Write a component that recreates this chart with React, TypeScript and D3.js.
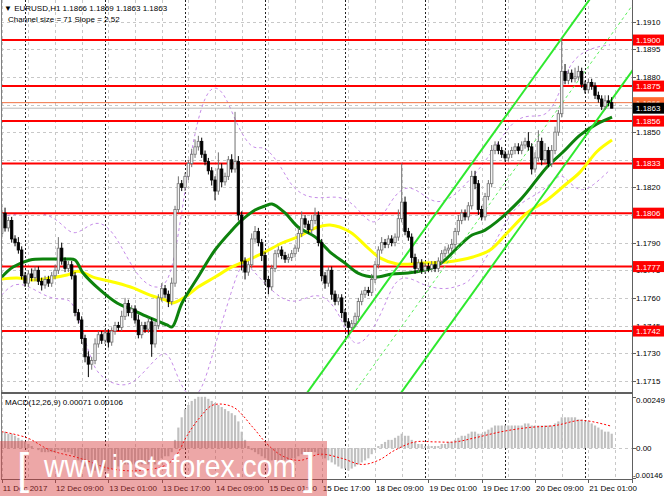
import React from "react";
import * as d3 from "d3";

// ---------- DATA ----------
const firstOpen = 1.1795;
const closes = [
  1.1806, 1.1798, 1.1802, 1.1792, 1.179, 1.1786, 1.1772, 1.1768,
  1.1773, 1.1771, 1.1775, 1.1769, 1.1767, 1.177, 1.1768, 1.1772,
  1.1775, 1.1787, 1.178, 1.1776, 1.1778, 1.1772, 1.1752, 1.1748,
  1.1738, 1.1728, 1.1724, 1.1726, 1.1735, 1.174, 1.1737, 1.1741,
  1.1736, 1.1742, 1.1745, 1.1744, 1.175, 1.1757, 1.1752, 1.1754,
  1.1748, 1.174, 1.1745, 1.1743, 1.1747, 1.1735, 1.1745, 1.176,
  1.1765, 1.1762, 1.1758, 1.1768, 1.1808, 1.1822, 1.182, 1.1826,
  1.1833, 1.1838, 1.1842, 1.1845, 1.1838, 1.1834, 1.1829, 1.1824,
  1.1818, 1.183, 1.1823, 1.1826, 1.1835, 1.183, 1.1834, 1.1805,
  1.178, 1.1774, 1.1778, 1.1792, 1.1796, 1.179, 1.1783, 1.177,
  1.1766, 1.1776, 1.1784, 1.1786, 1.1783, 1.1781, 1.1782, 1.1784,
  1.1787, 1.1795, 1.1803, 1.18, 1.1797, 1.1802, 1.1805, 1.179,
  1.1772, 1.1768, 1.1775, 1.1762, 1.1758, 1.176, 1.1752, 1.1747,
  1.1744, 1.1746, 1.175, 1.1758, 1.1762, 1.1764, 1.1763, 1.177,
  1.1778, 1.1786, 1.179, 1.1789, 1.1792, 1.179, 1.1793, 1.1803,
  1.1812, 1.1796, 1.1793, 1.1782, 1.1776, 1.1779, 1.1775, 1.1777,
  1.1776, 1.1778, 1.1776, 1.178, 1.1784, 1.1786, 1.1787, 1.1789,
  1.1796, 1.1802, 1.1806, 1.1804, 1.181, 1.1826, 1.1822, 1.1808,
  1.1804, 1.1815, 1.1822, 1.184, 1.1843, 1.184, 1.1838, 1.1836,
  1.1838, 1.184, 1.1842, 1.184, 1.1843, 1.1845, 1.1842, 1.183,
  1.1836, 1.1845, 1.1835, 1.184, 1.1833, 1.184, 1.185, 1.186,
  1.1883, 1.1878, 1.1882, 1.1879, 1.188, 1.1883, 1.1876, 1.1873,
  1.1877, 1.1875, 1.187, 1.1868, 1.1864, 1.1867, 1.1866, 1.1863,
];
// wick lengths in pips
const wickUp = [
  4, 3, 2, 2, 2, 3, 2, 2, 2, 3, 2, 2, 2, 2, 2, 2, 3, 6, 3, 2, 2, 2, 2, 2,
  2, 2, 3, 2, 3, 2, 2, 2, 2, 2, 2, 2, 3, 3, 2, 2, 2, 3, 2, 2, 2, 2, 2, 2,
  3, 2, 2, 3, 2, 4, 2, 2, 2, 3, 4, 3, 2, 2, 2, 2, 2, 9, 3, 2, 2, 3, 27, 3,
  2, 2, 2, 3, 3, 2, 2, 2, 2, 2, 2, 2, 2, 2, 2, 2, 2, 3, 4, 2, 2, 3, 4, 2,
  2, 2, 2, 2, 2, 2, 2, 2, 2, 2, 2, 2, 2, 2, 2, 3, 2, 2, 3, 2, 2, 2, 2, 5,
  21, 3, 2, 2, 2, 2, 2, 2, 2, 2, 2, 2, 2, 2, 2, 3, 2, 3, 2, 2, 2, 3, 3, 2,
  2, 2, 2, 3, 2, 2, 2, 2, 2, 2, 2, 2, 2, 2, 5, 2, 3, 6, 2, 4, 2, 3, 3, 2,
  18, 4, 2, 2, 5, 3, 2, 2, 2, 2, 2, 2, 2, 3, 3, 3,
];
const wickDn = [
  3, 2, 2, 2, 2, 2, 2, 2, 2, 2, 2, 2, 3, 2, 2, 2, 2, 2, 2, 2, 2, 2, 2, 2,
  3, 3, 7, 3, 2, 2, 2, 2, 3, 2, 2, 2, 2, 2, 2, 3, 2, 2, 2, 2, 2, 7, 2, 2,
  2, 2, 3, 2, 2, 2, 2, 2, 2, 2, 2, 2, 2, 2, 2, 3, 5, 2, 3, 2, 2, 2, 2, 3,
  5, 4, 2, 2, 2, 2, 3, 3, 4, 2, 2, 2, 2, 2, 2, 2, 2, 2, 2, 2, 2, 2, 2, 2,
  3, 3, 2, 3, 2, 2, 3, 2, 4, 2, 2, 2, 2, 2, 2, 2, 2, 2, 2, 2, 2, 2, 2, 2,
  2, 2, 2, 3, 3, 2, 2, 2, 2, 2, 2, 2, 2, 2, 2, 2, 2, 2, 2, 2, 2, 2, 3, 3,
  2, 2, 2, 2, 2, 2, 2, 2, 2, 2, 2, 2, 2, 2, 2, 3, 2, 2, 3, 2, 2, 2, 2, 2,
  2, 2, 2, 2, 2, 2, 2, 2, 2, 2, 2, 2, 2, 2, 2, 0,
];
// moving averages, sampled [bar, price]
const greenMA: [number, number][] = [
  [0, 1.17713], [3.4, 1.17768], [8.5, 1.17806], [14.5, 1.17811], [19.6, 1.17811],
  [22, 1.17806], [24.4, 1.17735], [29.5, 1.17643], [34.6, 1.17572], [39.4, 1.17534],
  [44.5, 1.17491], [49.6, 1.17453], [51.1, 1.17442], [54.1, 1.17572], [58.9, 1.17713],
  [64, 1.1786], [69.1, 1.17968], [72.1, 1.18023], [76, 1.18077], [79, 1.18099],
  [81.1, 1.1811], [85, 1.18061], [88.9, 1.17985], [94, 1.17931], [98.5, 1.17849],
  [103, 1.17789], [106.9, 1.17735], [112, 1.17713], [117.1, 1.1773], [121.9, 1.17735],
  [127, 1.17751], [130, 1.17768], [133, 1.17806], [136.9, 1.17876], [141.1, 1.17941],
  [145, 1.17968], [155.5, 1.18131], [163.6, 1.18311], [168.4, 1.18392], [173.5, 1.18484],
  [178.6, 1.18545], [183.1, 1.18582],
];
const yellowMA: [number, number][] = [
  [0, 1.17702], [4.6, 1.17708], [9.4, 1.17697], [14.5, 1.17708], [19.6, 1.17724],
  [22.9, 1.17745], [27.4, 1.17713], [34.6, 1.17681], [39.4, 1.17654], [44.5, 1.17615],
  [49, 1.17589], [51.1, 1.17572], [55, 1.17605], [58.9, 1.17659], [64, 1.17713],
  [69.1, 1.17768], [73.9, 1.17806], [79, 1.17849], [84.1, 1.17898], [88.9, 1.17931],
  [94, 1.17979], [98.5, 1.17996], [104.5, 1.17958], [109.6, 1.17876], [113.5, 1.17817],
  [118.6, 1.17784], [126.4, 1.17789], [133.6, 1.17795], [141.4, 1.17822], [146.5, 1.1786],
  [151.6, 1.17952], [157.6, 1.18061], [163.6, 1.18131], [169, 1.18213], [173.5, 1.18283],
  [178.6, 1.18395], [183.1, 1.18457],
];
// bollinger bands, sampled [bar, price]
const bbUpper: [number, number][] = [
  [0, 1.18043], [6.4, 1.1806], [12.4, 1.18065], [17.5, 1.18016], [21.4, 1.17929],
  [25.9, 1.17994], [29.5, 1.18016], [33.4, 1.17961], [37.6, 1.1782], [41.5, 1.177],
  [46, 1.17646], [49.9, 1.17673], [52.3, 1.1786], [55, 1.18186], [58, 1.18512],
  [61, 1.18703], [64, 1.18757], [67, 1.18703], [70, 1.18567], [73, 1.18458],
  [76, 1.18403], [79, 1.18431], [84.1, 1.18306], [87.1, 1.18197], [91.9, 1.18143],
  [97, 1.18143], [102.1, 1.18154], [106.9, 1.18088], [112, 1.17963], [117.1, 1.18143],
  [121, 1.18208], [124.9, 1.18186], [130, 1.18105], [135.1, 1.18143], [139, 1.18214],
  [142.9, 1.1829], [148, 1.18415], [153.4, 1.18567], [158.5, 1.18594], [163.6, 1.18578],
  [167.5, 1.18714], [170.5, 1.18888], [176.5, 1.18958], [182.5, 1.18974],
];
const bbLower: [number, number][] = [
  [0, 1.17616], [3.4, 1.17681], [7.6, 1.1767], [12.4, 1.17616], [16.6, 1.17589],
  [20.5, 1.176], [22.6, 1.17518], [26.5, 1.17279], [28.6, 1.17192], [32.5, 1.17138],
  [37.6, 1.17117], [41.5, 1.17171], [46.6, 1.17279], [49.6, 1.17317], [52, 1.17209],
  [55, 1.17073], [59.5, 1.17046], [64, 1.17344], [69.1, 1.17648], [72.1, 1.17807],
  [75, 1.17757], [79, 1.17676], [84.1, 1.17589], [88.9, 1.17573], [94, 1.17627],
  [98.5, 1.17589], [102.1, 1.17481], [105.1, 1.1734], [109, 1.17356], [114.1, 1.17519],
  [117.1, 1.17665], [120.1, 1.17719], [124, 1.17697], [127, 1.17665], [133, 1.17643],
  [136.9, 1.17665], [139.9, 1.17681], [143.5, 1.17763], [148, 1.17899], [153.4, 1.18089],
  [158.5, 1.18143], [163.6, 1.18197], [167.5, 1.18279], [169.6, 1.18241], [173.5, 1.18171],
  [177.4, 1.18208], [182.5, 1.18295],
];
// MACD histogram (x 1e-4) and signal samples [bar, x 1e-4]
const macdHist = [
  8, 8, 7, 7, 6, 5, 4, 3, 2, 1, 0, -1, -2, -2, -2, -2,
  -2, -1, -1, -2, -2, -3, -4, -6, -7, -9, -10, -11, -11, -11, -11, -11,
  -11, -10, -10, -9, -8, -8, -8, -8, -8, -8, -8, -8, -8, -9, -8, -6,
  -5, -4, -4, -2, 4, 10, 15, 19, 21, 23, 24, 25, 25, 25, 24, 23,
  22, 21, 20, 19, 18, 17, 16, 13, 8, 4, 1, -1, -2, -3, -4, -5,
  -6, -6, -6, -6, -6, -6, -6, -5, -5, -4, -3, -3, -3, -2, -2, -3,
  -4, -5, -6, -7, -8, -9, -10, -10, -11, -10, -9, -8, -7, -6, -5, -3,
  -1, 1, 2, 3, 4, 4, 5, 6, 7, 6, 6, 4, 3, 2, 2, 1,
  1, 1, 1, 1, 2, 2, 3, 3, 4, 5, 6, 6, 7, 8, 8, 7,
  7, 8, 9, 10, 11, 11, 11, 11, 11, 11, 11, 11, 11, 12, 12, 11,
  11, 11, 11, 11, 11, 11, 12, 13, 15, 15, 15, 15, 15, 14, 14, 13,
  13, 12, 11, 10, 9, 8, 8, 7,
];
const macdSignal: [number, number][] = [
  [0, 8], [7.6, 5], [14.5, -1], [23.5, -5], [32.5, -10], [41.5, -11], [49.6, -8],
  [52.6, -3], [55.6, 6], [59.5, 15], [63.4, 21], [69.4, 20], [75.4, 10], [79.6, 2],
  [84.4, -4], [89.5, -6], [95.5, -3], [102, -5], [108, -8], [113, -6], [118, -1],
  [124, 3], [130, 3], [136, 3], [142, 5], [150, 8], [158, 10], [166, 11], [174, 13.5],
  [183, 10.6],
];
const levels = [1.19, 1.1875, 1.1856, 1.1833, 1.1806, 1.1777, 1.1742];
const priceTicks = [1.1715, 1.173, 1.1745, 1.176, 1.1775, 1.179, 1.1805, 1.182, 1.1835, 1.185, 1.1865, 1.188, 1.1895, 1.191];
const timeLabels = ["11 Dec 2017", "12 Dec 09:00", "13 Dec 01:00", "13 Dec 17:00", "14 Dec 09:00", "15 Dec 01:00", "15 Dec 17:00", "18 Dec 09:00", "19 Dec 01:00", "19 Dec 17:00", "20 Dec 09:00", "21 Dec 01:00"];
const timeLabelBars = [0, 16, 32, 48, 64, 80, 96, 112, 128, 144, 160, 176];
const gridBars = [0, 8, 16, 24, 32, 40, 48, 56, 64, 72, 80, 88, 96, 104, 112, 120, 128, 136, 144, 152, 160, 168, 176, 184];
const daySeparatorBars = [7, 31, 55, 79, 103, 127, 151, 175];
const channelStartBar = 91.6;
const channelStartPrice = 1.17084;
const channelSlopePips = 2.52;
const channelSizePips = 71;
const bidPrice = 1.1863;
const askPrice = 1.1866;
const macdTicks = [0.00249, 0, -0.00146];

const FONT = "'Liberation Sans', Arial, sans-serif";

export default function App() {
  const W = 665, H = 499;
  const plotL = 1, plotR = 632, mainT = 0, mainB = 392, macdT = 395, macdB = 479;
  const x = d3.scaleLinear().domain([0, 183]).range([1.7, 611.7]);
  const y = d3.scaleLinear().domain([1.17089, 1.19212]).range([392, 1]);
  const ym = d3.scaleLinear().domain([-0.00146, 0.00249]).range([478, 397]);

  const bars = closes.map((c, i) => {
    const o = i === 0 ? firstOpen : closes[i - 1];
    const hi = Math.max(o, c) + wickUp[i] * 1e-4;
    const lo = Math.min(o, c) - wickDn[i] * 1e-4;
    return { i, o, c, hi, lo };
  });

  const priceLine = d3.line<[number, number]>().x((d) => x(d[0])).y((d) => y(d[1])).curve(d3.curveCatmullRom);
  const bandLine = d3.line<[number, number]>().x((d) => x(d[0])).y((d) => y(d[1])).curve(d3.curveBasis);
  const sigLine = d3.line<[number, number]>().x((d) => x(d[0])).y((d) => ym(d[1] * 1e-4)).curve(d3.curveCatmullRom);

  const chan = (offPips: number) => {
    const b0 = 80, b1 = 200;
    const p = (b: number) => channelStartPrice + ((b - channelStartBar) * channelSlopePips - offPips) * 1e-4;
    return { x1: x(b0), y1: y(p(b0)), x2: x(b1), y2: y(p(b1)) };
  };
  const ch1 = chan(0), ch2 = chan(channelSizePips), chm = chan(channelSizePips / 2);

  const bodyW = 2.4;

  return (
    <div style={{ position: "absolute", left: 0, top: 0 }}>
      <svg width={W} height={H} viewBox={`0 0 ${W} ${H}`} style={{ display: "block", background: "#fff" }} fontFamily={FONT}>
        <defs>
          <clipPath id="mainClip"><rect x={plotL} y={mainT} width={plotR - plotL} height={mainB - mainT} /></clipPath>
          <clipPath id="macdClip"><rect x={plotL} y={macdT} width={plotR - plotL} height={macdB - macdT} /></clipPath>
        </defs>
        <rect x={0} y={0} width={W} height={H} fill="#fff" />

        {/* horizontal grid */}
        {priceTicks.map((t) => (
          <line key={"hg" + t} x1={plotL} x2={plotR} y1={Math.round(y(t)) + 0.5} y2={Math.round(y(t)) + 0.5} stroke="#c8c8c8" strokeDasharray="3,3" />
        ))}
        <line x1={plotL} x2={plotR} y1={Math.round(ym(0)) + 0.5} y2={Math.round(ym(0)) + 0.5} stroke="#c8c8c8" strokeDasharray="3,3" />
        {/* vertical grid */}
        {gridBars.map((b) => (
          <line key={"vg" + b} x1={Math.round(x(b)) + 0.5} x2={Math.round(x(b)) + 0.5} y1={mainT} y2={macdB} stroke="#c8c8c8" strokeDasharray="3,3" />
        ))}
        {daySeparatorBars.map((b) => (
          <line key={"ds" + b} x1={Math.round(x(b)) + 0.5} x2={Math.round(x(b)) + 0.5} y1={mainT} y2={macdB} stroke="#222" strokeDasharray="2,2" />
        ))}

        <g clipPath="url(#mainClip)">
          {/* bollinger bands */}
          <path d={bandLine(bbUpper) || ""} fill="none" stroke="#c58be8" strokeWidth={1} strokeDasharray="3,3" />
          <path d={bandLine(bbLower) || ""} fill="none" stroke="#c58be8" strokeWidth={1} strokeDasharray="3,3" />
          {/* price lines */}
          <line x1={plotL} x2={plotR} y1={y(askPrice)} y2={y(askPrice)} stroke="#f07040" strokeWidth={1} />
          <line x1={plotL} x2={plotR} y1={y(bidPrice)} y2={y(bidPrice)} stroke="#b8b8b8" strokeWidth={1} />
          {/* levels */}
          {levels.map((v) => (
            <line key={"lv" + v} x1={plotL} x2={plotR} y1={y(v)} y2={y(v)} stroke="#ff0000" strokeWidth={2} />
          ))}
          {/* MAs */}
          <path d={priceLine(yellowMA) || ""} fill="none" stroke="#ffff00" strokeWidth={3} />
          <path d={priceLine(greenMA) || ""} fill="none" stroke="#0d820d" strokeWidth={3} />
          {/* channel */}
          <line {...ch1} stroke="#2ee82e" strokeWidth={2} />
          <line {...ch2} stroke="#2ee82e" strokeWidth={2} />
          <line {...chm} stroke="#5ef05e" strokeWidth={1} strokeDasharray="3,3" />
          {/* candles */}
          {bars.map((d) => {
            const bull = d.c >= d.o;
            const col = bull ? "#707070" : "#000";
            const cx = x(d.i);
            const top = y(Math.max(d.o, d.c));
            const bot = y(Math.min(d.o, d.c));
            return (
              <g key={"c" + d.i}>
                <line x1={cx} x2={cx} y1={y(d.hi)} y2={y(d.lo)} stroke={col} strokeWidth={1} />
                <rect x={cx - bodyW / 2} y={top} width={bodyW} height={Math.max(0.8, bot - top)} fill={bull ? "#f4f4f4" : "#000"} stroke={col} strokeWidth={0.8} />
              </g>
            );
          })}
        </g>

        {/* MACD */}
        <g clipPath="url(#macdClip)">
          {macdHist.map((v, i) => {
            const y0 = ym(0), y1 = ym(v * 1e-4);
            return <rect key={"m" + i} x={x(i) - 1.1} y={Math.min(y0, y1)} width={2.2} height={Math.abs(y1 - y0)} fill="#c0c0c0" />;
          })}
          <path d={sigLine(macdSignal) || ""} fill="none" stroke="#ff0000" strokeWidth={1} strokeDasharray="2,2" />
        </g>
        <text x={5} y={405} fontSize={8} fill="#000">MACD(12,26,9) 0.00071 0.00106</text>

        {/* frames */}
        <line x1={1.5} x2={1.5} y1={0} y2={macdB} stroke="#808080" />
        <line x1={plotR + 0.5} x2={plotR + 0.5} y1={0} y2={macdB + 4} stroke="#606060" />
        <line x1={plotL} x2={plotR} y1={mainB + 1} y2={mainB + 1} stroke="#606060" strokeWidth={2} />
        <line x1={plotL} x2={plotR + 1} y1={macdB + 0.5} y2={macdB + 0.5} stroke="#606060" />

        {/* price axis */}
        {priceTicks.map((t) => (
          <g key={"pt" + t}>
            <line x1={plotR} x2={plotR + 4} y1={Math.round(y(t)) + 0.5} y2={Math.round(y(t)) + 0.5} stroke="#606060" />
            <text x={636} y={y(t) + 3} fontSize={8} fill="#000">{t.toFixed(4)}</text>
          </g>
        ))}
        {macdTicks.map((t) => (
          <g key={"mt" + t}>
            <line x1={plotR} x2={plotR + 4} y1={Math.round(ym(t)) + 0.5} y2={Math.round(ym(t)) + 0.5} stroke="#606060" />
            <text x={t < 0 ? 633 : 636} y={Math.min(Math.max(ym(t) + 3, 403), 478)} fontSize={t < 0 ? 7.5 : 8} fill="#000">{t === 0 ? "0.00" : t.toFixed(5)}</text>
          </g>
        ))}
        {levels.map((v) => (
          <g key={"lb" + v}>
            <rect x={633} y={y(v) - 5.5} width={31} height={11} fill="#ff0000" />
            <text x={636} y={y(v) + 3} fontSize={8} fill="#fff">{v.toFixed(4)}</text>
          </g>
        ))}
        <rect x={633} y={y(askPrice) - 5.5} width={31} height={11} fill="#ff6a30" />
        <text x={636} y={y(askPrice) + 3} fontSize={8} fill="#ffe0d0">{askPrice.toFixed(4)}</text>
        <rect x={633} y={y(bidPrice) - 5.5} width={31} height={11} fill="#000" />
        <text x={636} y={y(bidPrice) + 3} fontSize={8} fill="#fff">{bidPrice.toFixed(4)}</text>

        {/* time axis */}
        {timeLabelBars.map((b, k) => (
          <g key={"tl" + b}>
            <line x1={Math.round(x(b)) + 0.5} x2={Math.round(x(b)) + 0.5} y1={macdB} y2={macdB + 4} stroke="#606060" />
            <text x={x(b) + 1} y={491} fontSize={8} fill="#000">{timeLabels[k]}</text>
          </g>
        ))}

        {/* header */}
        <text x={4} y={11} fontSize={8} fill="#000">▼ EURUSD,H1  1.1866 1.1869 1.1863 1.1863</text>
        <text x={8} y={22} fontSize={8} fill="#000">Channel size = 71 Slope = 2.52</text>

        {/* watermark */}
        <rect x={0} y={441} width={327} height={55} fill="#d83c3c" opacity={0.45} />
        <text x={17} y={484} fontSize={44} fill="#fff" fontWeight={300}>[</text>
        <text x={44} y={477} fontSize={32} fill="#fff" textLength={252} lengthAdjust="spacingAndGlyphs">www.instaforex.com</text>
        <text x={303} y={484} fontSize={44} fill="#fff">]</text>
      </svg>
    </div>
  );
}
